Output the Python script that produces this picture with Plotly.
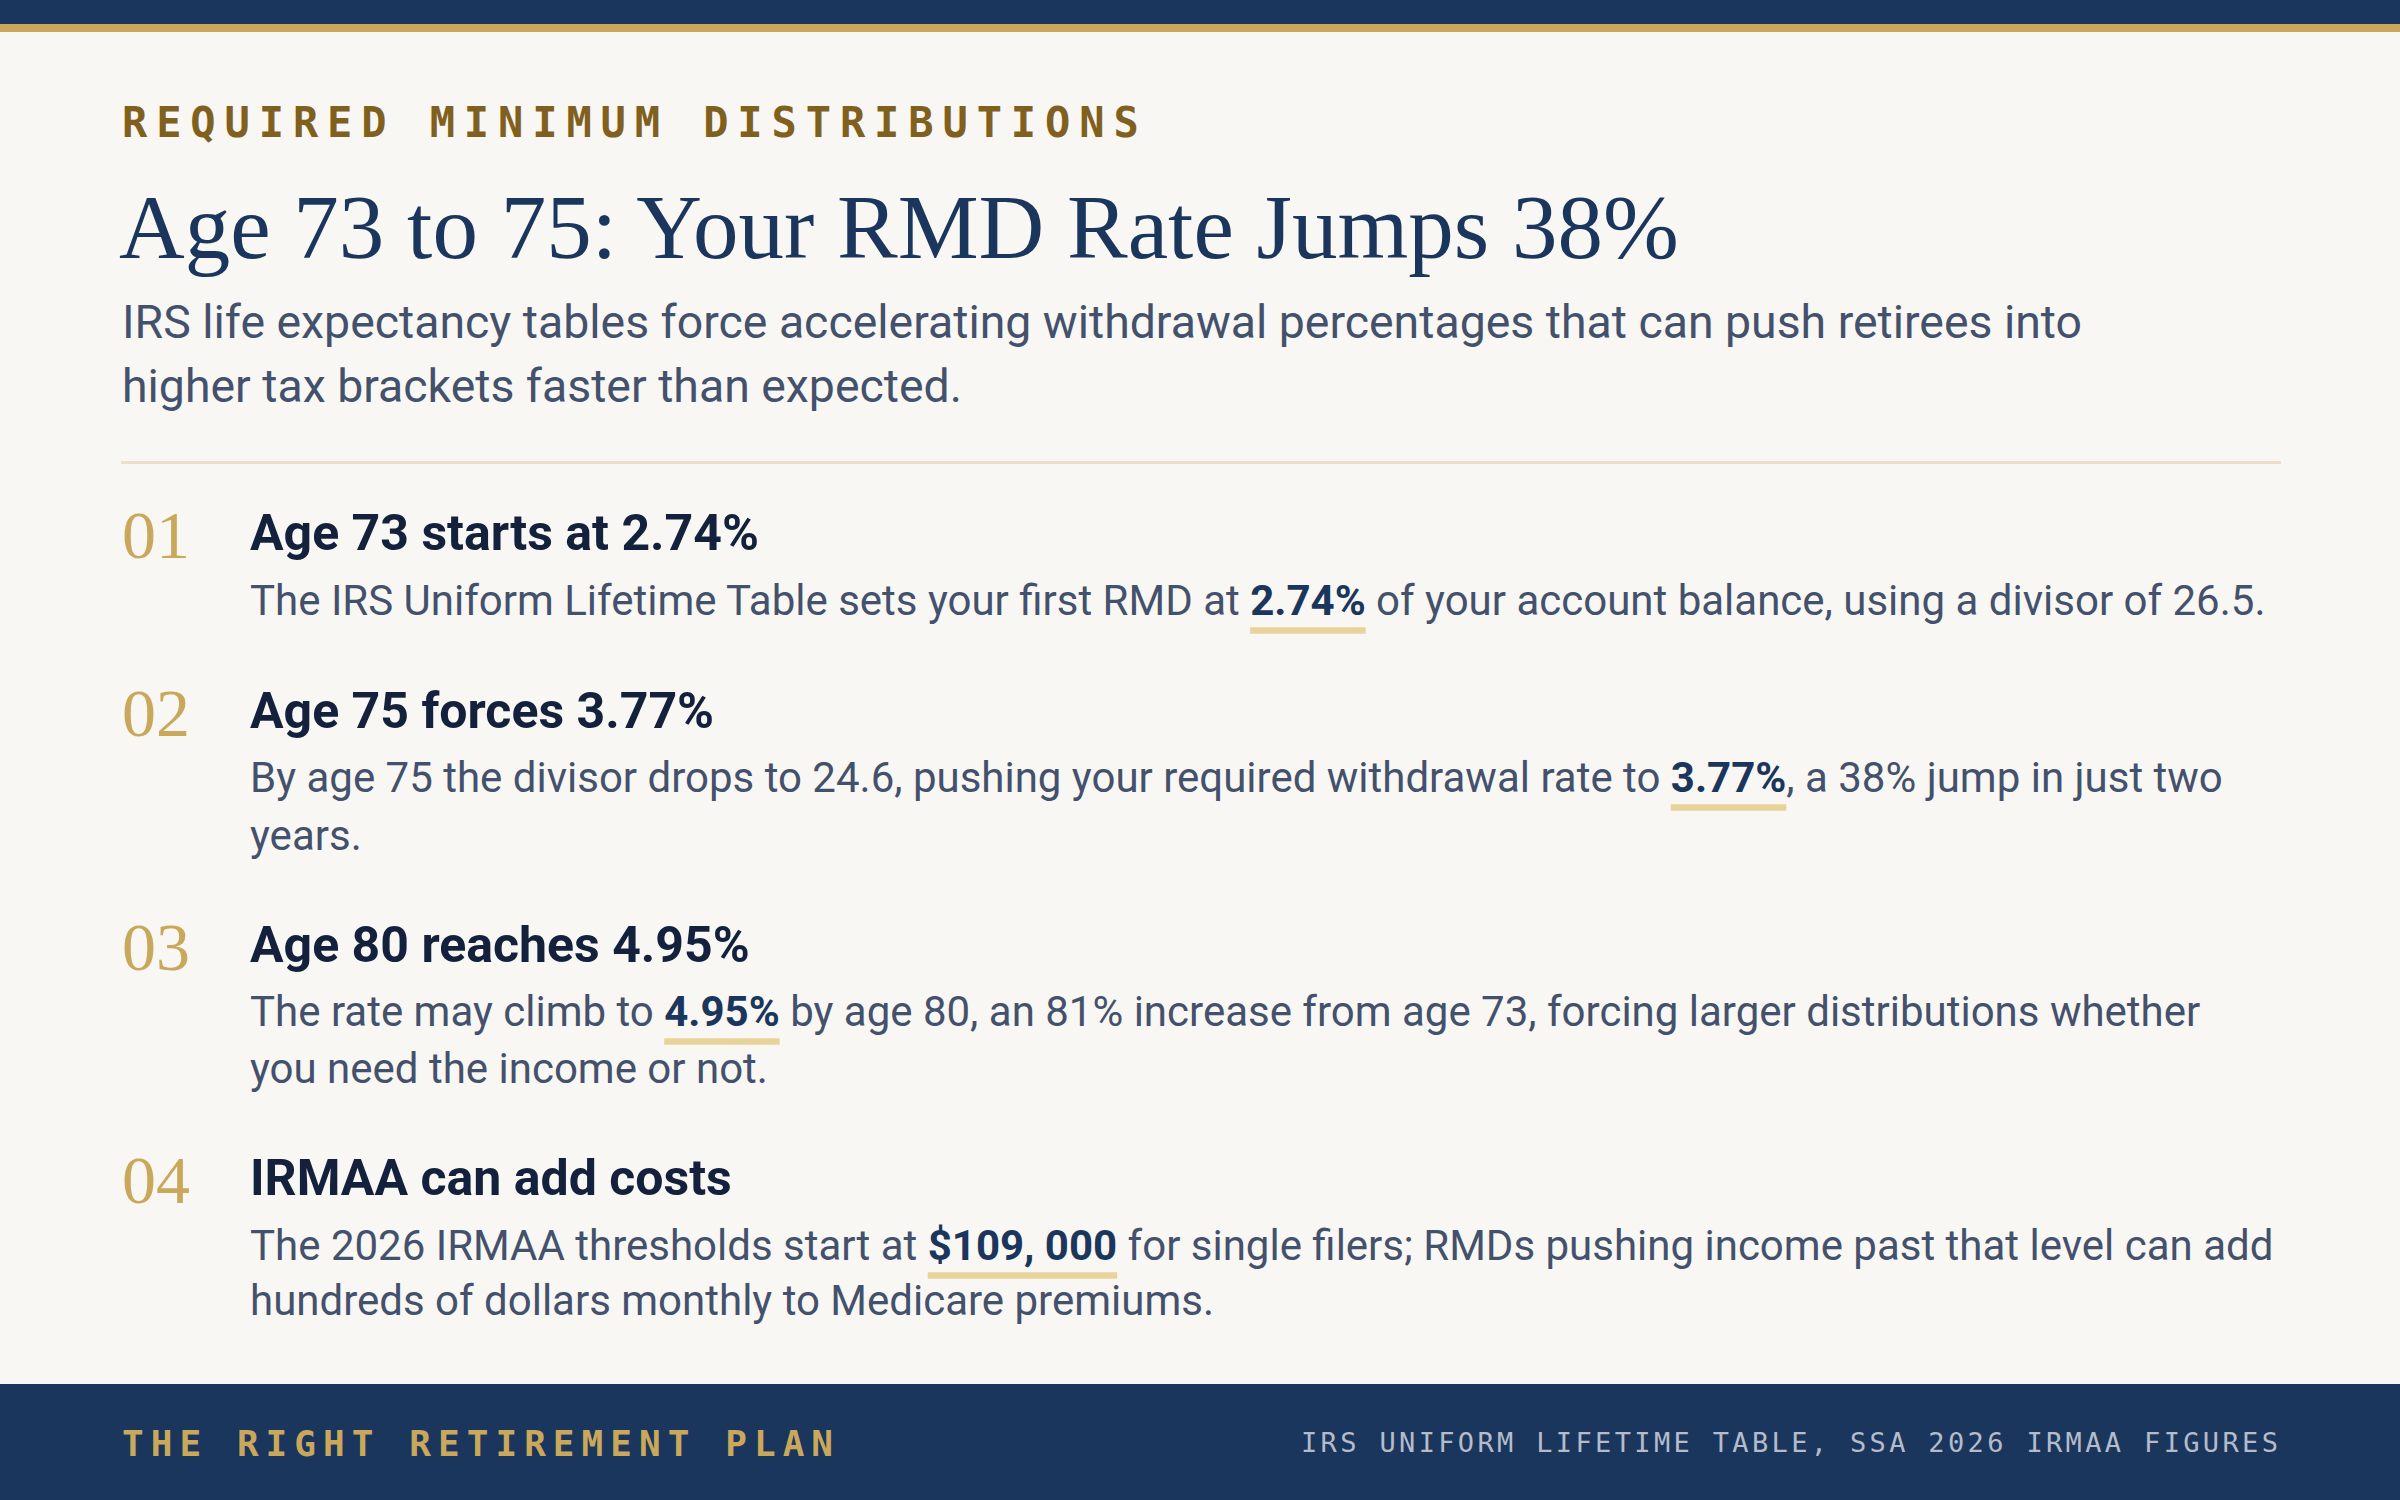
import json
import plotly.graph_objects as go

# ---------------- content ----------------
EYEBROW = "REQUIRED MINIMUM DISTRIBUTIONS"
TITLE = "Age 73 to 75: Your RMD Rate Jumps 38%"
SUBTITLE_LINES = [
    "IRS life expectancy tables force accelerating withdrawal percentages that can push retirees into",
    "higher tax brackets faster than expected.",
]
ITEM_NUMBERS = ["01", "02", "03", "04"]
ITEM_HEADINGS = [
    "Age 73 starts at 2.74%",
    "Age 75 forces 3.77%",
    "Age 80 reaches 4.95%",
    "IRMAA can add costs",
]
ITEM_BODY_LINES = [
    ["The IRS Uniform Lifetime Table sets your first RMD at 2.74% of your account balance, using a divisor of 26.5."],
    ["By age 75 the divisor drops to 24.6, pushing your required withdrawal rate to 3.77%, a 38% jump in just two",
     "years."],
    ["The rate may climb to 4.95% by age 80, an 81% increase from age 73, forcing larger distributions whether",
     "you need the income or not."],
    ["The 2026 IRMAA thresholds start at $109, 000 for single filers; RMDs pushing income past that level can add",
     "hundreds of dollars monthly to Medicare premiums."],
]
ITEM_HIGHLIGHTS = ["2.74%", "3.77%", "4.95%", "$109, 000"]
FOOTER_LEFT = "THE RIGHT RETIREMENT PLAN"
FOOTER_RIGHT = "IRS UNIFORM LIFETIME TABLE, SSA 2026 IRMAA FIGURES"

# ---------------- style ----------------
W, H = 2400, 1500
NAVY = "#1B365D"
GOLD = "#C9A85C"
BG = "#F9F7F3"
EYEBROW_C = "#80601F"
SUB_C = "#44516C"
HEAD_C = "#14213D"
UNDER_C = "#E8D49A"
RULE_C = "#EADFC8"
FOOT_R_C = "#B4BCCB"

SANS = "Roboto"
SERIF = "Liberation Serif"
MONO = "DejaVu Sans Mono"

X_LEFT = 121
X_ITEM = 249

HEAD_BASE = [550, 728, 962, 1195]
BODY_BASE = [[615], [792, 850], [1026, 1083], [1260, 1315]]

fig = go.Figure()
fig.update_layout(
    width=W, height=H, margin=dict(l=0, r=0, t=0, b=0),
    paper_bgcolor=BG, plot_bgcolor=BG, showlegend=False,
    xaxis=dict(range=[0, W], visible=False, fixedrange=True),
    yaxis=dict(range=[H, 0], visible=False, fixedrange=True),
)

shapes = [
    dict(type="rect", xref="x", yref="y", x0=0, x1=W, y0=0, y1=24, fillcolor=NAVY, line_width=0),
    dict(type="rect", xref="x", yref="y", x0=0, x1=W, y0=24, y1=32, fillcolor=GOLD, line_width=0),
    dict(type="rect", xref="x", yref="y", x0=121, x1=2281, y0=461, y1=464, fillcolor=RULE_C, line_width=0),
    dict(type="rect", xref="x", yref="y", x0=0, x1=W, y0=1384, y1=H, fillcolor=NAVY, line_width=0),
]
fig.update_layout(shapes=shapes)


def add_text(x, baseline, text, size, family, color, k, xanchor="left", weight=None):
    font = dict(size=size, family=family, color=color)
    if weight:
        font["weight"] = weight
    fig.add_annotation(
        x=x, y=baseline - k * size, xref="x", yref="y", text=text, showarrow=False,
        xanchor=xanchor, yanchor="middle", align=xanchor, font=font, borderpad=0,
    )


def spaced(text, px):
    return f'<span style="letter-spacing:{px}px">{text}</span>'


K_SANS = 0.3415
K_SERIF = 0.34
K_MONO = 0.346
BODY_SIZE = 42
HEAD_SIZE = 50
SUB_SIZE = 46.4

add_text(X_LEFT, 137, spaced(EYEBROW, 8.9), 42, MONO, EYEBROW_C, K_MONO, weight="bold")
add_text(118, 258, TITLE, 91, SERIF, NAVY, K_SERIF)
for line, base in zip(SUBTITLE_LINES, [338, 402]):
    add_text(X_LEFT, base, line, SUB_SIZE, SANS, SUB_C, K_SANS)

HL_STYLE = f"font-weight:bold;color:{NAVY}"
for i, num in enumerate(ITEM_NUMBERS):
    add_text(X_LEFT, HEAD_BASE[i] + 8, num, 68, SERIF, GOLD, K_SERIF)
    add_text(X_ITEM, HEAD_BASE[i], ITEM_HEADINGS[i], HEAD_SIZE, SANS, HEAD_C, K_SANS, weight="bold")
    for j, (line, base) in enumerate(zip(ITEM_BODY_LINES[i], BODY_BASE[i])):
        if j == 0:
            hl = ITEM_HIGHLIGHTS[i]
            line = line.replace(hl, f'<span style="{HL_STYLE}">{hl}</span>', 1)
        add_text(X_ITEM, base, line, BODY_SIZE, SANS, SUB_C, K_SANS)

add_text(X_LEFT, 1456, spaced(FOOTER_LEFT, 7.05), 36, MONO, GOLD, K_MONO, weight="bold")
add_text(2282, 1452, spaced(FOOTER_RIGHT, 3.35), 27, MONO, FOOT_R_C, K_MONO, xanchor="right")

# gold underline bars under the highlighted figures: the extent of each rendered
# highlight is measured, then added as Plotly shapes in axis units (1 unit = 1 px)
DESCENT = 0.244 * BODY_SIZE
BAR_TOP = 12.5 - DESCENT
BAR_BOTTOM = 19.0 - DESCENT
post = """
var gd = document.getElementById('{plot_id}');
document.body.style.margin = '0';
document.body.style.background = %s;
var g = gd.getBoundingClientRect();
var add = [];
gd.querySelectorAll('.annotation tspan').forEach(function(t) {
  var s = t.getAttribute('style') || '';
  if (s.indexOf('bold') < 0) return;
  var r = t.getBoundingClientRect();
  add.push({type: 'rect', xref: 'x', yref: 'y', layer: 'below',
            x0: r.left - g.left, x1: r.right - g.left,
            y0: r.bottom - g.top + %f, y1: r.bottom - g.top + %f,
            fillcolor: %s, line: {width: 0}});
});
Plotly.relayout(gd, {shapes: (gd.layout.shapes || []).concat(add)});
""" % (json.dumps(BG), BAR_TOP, BAR_BOTTOM, json.dumps(UNDER_C))

fig.write_html("out.html", config={"displayModeBar": False}, post_script=post)
